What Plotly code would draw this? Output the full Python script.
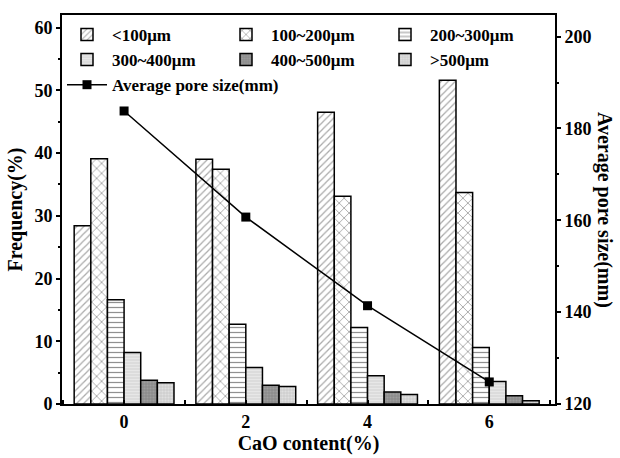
import plotly.graph_objects as go

cao = [0, 2, 4, 6]
size_labels = ["&lt;100μm", "100~200μm", "200~300μm", "300~400μm", "400~500μm", "&gt;500μm"]
freq_lt100 = [28.4, 39.0, 46.5, 51.6]
freq_100_200 = [39.1, 37.4, 33.1, 33.7]
freq_200_300 = [16.6, 12.7, 12.2, 9.0]
freq_300_400 = [8.2, 5.8, 4.5, 3.6]
freq_400_500 = [3.8, 3.0, 1.9, 1.3]
freq_gt500 = [3.4, 2.8, 1.5, 0.5]
avg_pore = [183.8, 160.7, 141.4, 124.8]

series = [freq_lt100, freq_100_200, freq_200_300, freq_300_400, freq_400_500, freq_gt500]
patterns = [
    dict(shape="/", bgcolor="white", fgcolor="#555555", size=5, solidity=0.25),
    dict(shape="x", bgcolor="white", fgcolor="#222222", size=7, solidity=0.2),
    dict(shape="-", bgcolor="white", fgcolor="#222222", size=5, solidity=0.25),
    dict(shape="-", bgcolor="#dcdcdc", fgcolor="#f4f4f4", size=3, solidity=0.3),
    dict(shape=".", bgcolor="#8c8c8c", fgcolor="#b0b0b0", size=3, solidity=0.4),
    dict(shape=".", bgcolor="#d0d0d0", fgcolor="#f0f0f0", size=3, solidity=0.4),
]

FONT = "Liberation Serif"
fig = go.Figure()
for name, vals, pat in zip(size_labels, series, patterns):
    fig.add_trace(go.Bar(
        x=cao, y=vals, name=name,
        marker=dict(color="white", pattern=pat, line=dict(color="black", width=1.5)),
    ))

fig.add_trace(go.Scatter(
    x=cao, y=avg_pore, name="Average pore size(mm)", yaxis="y2",
    mode="lines+markers",
    line=dict(color="black", width=1.5),
    marker=dict(symbol="square", size=9, color="black"),
))

axis_font = dict(family=FONT, size=18, color="black", weight="bold")
fig.update_layout(
    width=620, height=458,
    margin=dict(l=62, r=65, t=15, b=46),
    plot_bgcolor="white", paper_bgcolor="white",
    barmode="group", bargap=0.18, bargroupgap=0,
    showlegend=True,
    legend=dict(
        orientation="h", x=0.0, y=0.995, xanchor="left", yanchor="top",
        entrywidth=104, bgcolor="rgba(0,0,0,0)",
        font=dict(family=FONT, size=17, color="black", weight="bold"),
        tracegroupgap=0, itemwidth=40,
    ),
    xaxis=dict(
        range=[-1.02, 7.08], tickvals=cao, ticktext=[str(c) for c in cao],
        showgrid=False, zeroline=False, showline=True, linecolor="black", linewidth=2,
        mirror=True, ticks="inside", ticklen=4, tickwidth=2, tickcolor="black",
        minor=dict(dtick=2, tick0=1, ticks="inside", ticklen=4, tickwidth=2, tickcolor="black"),
        tickfont=axis_font,
        title=dict(text="CaO content(%)", font=dict(family=FONT, size=20, color="black", weight="bold"), standoff=0),
    ),
    yaxis=dict(
        range=[0, 62], tickvals=[0, 10, 20, 30, 40, 50, 60],
        showgrid=False, zeroline=False, showline=True, linecolor="black", linewidth=2,
        ticks="outside", ticklen=4, tickwidth=2, tickcolor="black",
        minor=dict(dtick=5, ticks="outside", ticklen=2, tickwidth=1.5, tickcolor="black"),
        tickfont=axis_font,
        title=dict(text="Frequency(%)", font=dict(family=FONT, size=20, color="black", weight="bold"), standoff=6),
    ),
    yaxis2=dict(
        range=[120, 204.7], tickvals=[120, 140, 160, 180, 200], overlaying="y", side="right",
        showgrid=False, zeroline=False, showline=True, linecolor="black", linewidth=2,
        ticks="outside", ticklen=4, tickwidth=2, tickcolor="black",
        minor=dict(dtick=10, ticks="outside", ticklen=2, tickwidth=1.5, tickcolor="black"),
        tickfont=axis_font,
    ),
    annotations=[dict(
        text="Average pore size(mm)", textangle=90, xref="paper", yref="paper",
        x=1.0, y=0.5, xanchor="left", yanchor="middle", xshift=36, showarrow=False,
        font=dict(family=FONT, size=20, color="black", weight="bold"),
    )],
)

fig.write_html("out.html")
